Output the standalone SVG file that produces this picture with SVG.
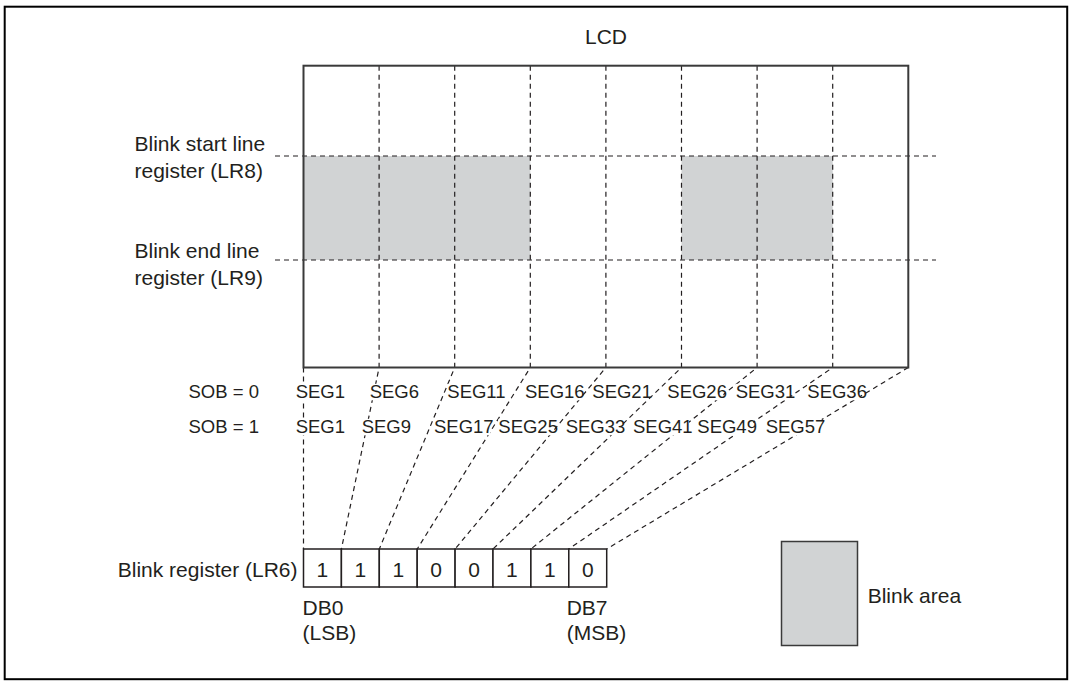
<svg xmlns="http://www.w3.org/2000/svg" width="1074" height="682" viewBox="0 0 1074 682">
<style>
.t{font-family:"Liberation Sans",Arial,sans-serif;font-size:21px;fill:#231f20}
.s{font-family:"Liberation Sans",Arial,sans-serif;font-size:18.5px;fill:#231f20}
.d{fill:none;stroke:#231f20;stroke-width:1.2;stroke-dasharray:5,4}
.gray{fill:#d1d3d4}
.m{fill:#fff}
.cell{fill:#fff;stroke:#231f20;stroke-width:1.5}
</style>
<rect id="frame" x="4.7" y="6.7" width="1062.5" height="672.5" fill="#fff" stroke="#000" stroke-width="2"/>
<g id="lcd">
<rect class="gray" x="303.5" y="156" width="226.8" height="104"/>
<rect class="gray" x="681.5" y="156" width="151.2" height="104"/>
<line class="d" x1="275" y1="156" x2="936" y2="156"/>
<line class="d" x1="275" y1="260" x2="936" y2="260"/>
<text class="t" x="606" y="43.5" text-anchor="middle">LCD</text>
</g>
<g id="connectors">
<path class="d" d="M303.5 367.5L303.5 549"/>
<path class="d" d="M379.1 65.7L379.1 367.5L341.4 549"/>
<path class="d" d="M454.7 65.7L454.7 367.5L379.3 549"/>
<path class="d" d="M530.3 65.7L530.3 367.5L417.2 549"/>
<path class="d" d="M605.9 65.7L605.9 367.5L455.1 549"/>
<path class="d" d="M681.5 65.7L681.5 367.5L493 549"/>
<path class="d" d="M757.1 65.7L757.1 367.5L530.9 549"/>
<path class="d" d="M832.7 65.7L832.7 367.5L568.8 549"/>
<path class="d" d="M908.3 367.5L606.7 549"/>
</g>
<rect id="lcd-border" x="303.5" y="65.7" width="604.8" height="301.8" fill="none" stroke="#3a3a3a" stroke-width="2"/>
<g id="line-registers">
<text class="t" x="134.5" y="151">Blink start line</text>
<text class="t" x="134.5" y="177.5">register (LR8)</text>
<text class="t" x="134.5" y="258.3">Blink end line</text>
<text class="t" x="134.5" y="285">register (LR9)</text>
</g>
<g id="sob0">
<text class="s" x="188.5" y="398.3">SOB = 0</text>
<rect class="m" x="295.7" y="383.8" width="47" height="16.5"/><text class="s" x="295.7" y="398.3">SEG1</text>
<rect class="m" x="369.7" y="383.8" width="47" height="16.5"/><text class="s" x="369.7" y="398.3">SEG6</text>
<rect class="m" x="447.3" y="383.8" width="56" height="16.5"/><text class="s" x="447.3" y="398.3">SEG11</text>
<rect class="m" x="525" y="383.8" width="56" height="16.5"/><text class="s" x="525" y="398.3">SEG16</text>
<rect class="m" x="592.3" y="383.8" width="56" height="16.5"/><text class="s" x="592.3" y="398.3">SEG21</text>
<rect class="m" x="667.3" y="383.8" width="56" height="16.5"/><text class="s" x="667.3" y="398.3">SEG26</text>
<rect class="m" x="735.7" y="383.8" width="54" height="16.5"/><text class="s" x="735.7" y="398.3">SEG31</text>
<rect class="m" x="807.3" y="383.8" width="53" height="16.5"/><text class="s" x="807.3" y="398.3">SEG36</text>
</g>
<g id="sob1">
<text class="s" x="188.5" y="433.3">SOB = 1</text>
<rect class="m" x="295.7" y="418.8" width="47" height="16.5"/><text class="s" x="295.7" y="433.3">SEG1</text>
<rect class="m" x="361.7" y="418.8" width="47" height="16.5"/><text class="s" x="361.7" y="433.3">SEG9</text>
<rect class="m" x="434" y="418.8" width="56" height="16.5"/><text class="s" x="434" y="433.3">SEG17</text>
<rect class="m" x="498.3" y="418.8" width="56" height="16.5"/><text class="s" x="498.3" y="433.3">SEG25</text>
<rect class="m" x="565.7" y="418.8" width="56" height="16.5"/><text class="s" x="565.7" y="433.3">SEG33</text>
<rect class="m" x="633" y="418.8" width="56" height="16.5"/><text class="s" x="633" y="433.3">SEG41</text>
<rect class="m" x="697.3" y="418.8" width="56" height="16.5"/><text class="s" x="697.3" y="433.3">SEG49</text>
<rect class="m" x="765.7" y="418.8" width="56" height="16.5"/><text class="s" x="765.7" y="433.3">SEG57</text>
</g>
<g id="blink-register">
<text class="t" x="297.5" y="576.5" text-anchor="end">Blink register (LR6)</text>
<rect class="cell" x="303.5" y="549" width="37.9" height="38"/>
<rect class="cell" x="341.4" y="549" width="37.9" height="38"/>
<rect class="cell" x="379.3" y="549" width="37.9" height="38"/>
<rect class="cell" x="417.2" y="549" width="37.9" height="38"/>
<rect class="cell" x="455.1" y="549" width="37.9" height="38"/>
<rect class="cell" x="493" y="549" width="37.9" height="38"/>
<rect class="cell" x="530.9" y="549" width="37.9" height="38"/>
<rect class="cell" x="568.8" y="549" width="37.9" height="38"/>
<g class="t" text-anchor="middle">
<text class="t" x="322.45" y="576.5" text-anchor="middle">1</text>
<text class="t" x="360.35" y="576.5" text-anchor="middle">1</text>
<text class="t" x="398.25" y="576.5" text-anchor="middle">1</text>
<text class="t" x="436.15" y="576.5" text-anchor="middle">0</text>
<text class="t" x="474.05" y="576.5" text-anchor="middle">0</text>
<text class="t" x="511.95" y="576.5" text-anchor="middle">1</text>
<text class="t" x="549.85" y="576.5" text-anchor="middle">1</text>
<text class="t" x="587.75" y="576.5" text-anchor="middle">0</text>
</g>
<text class="t" x="302.5" y="615">DB0</text>
<text class="t" x="302.5" y="639.5">(LSB)</text>
<text class="t" x="566.7" y="615">DB7</text>
<text class="t" x="566.7" y="639.5">(MSB)</text>
</g>
<g id="legend">
<rect x="781.5" y="541.5" width="76" height="104" fill="#d1d3d4" stroke="#3a3a3a" stroke-width="1.5"/>
<text class="t" x="867.7" y="603.3">Blink area</text>
</g>
</svg>
